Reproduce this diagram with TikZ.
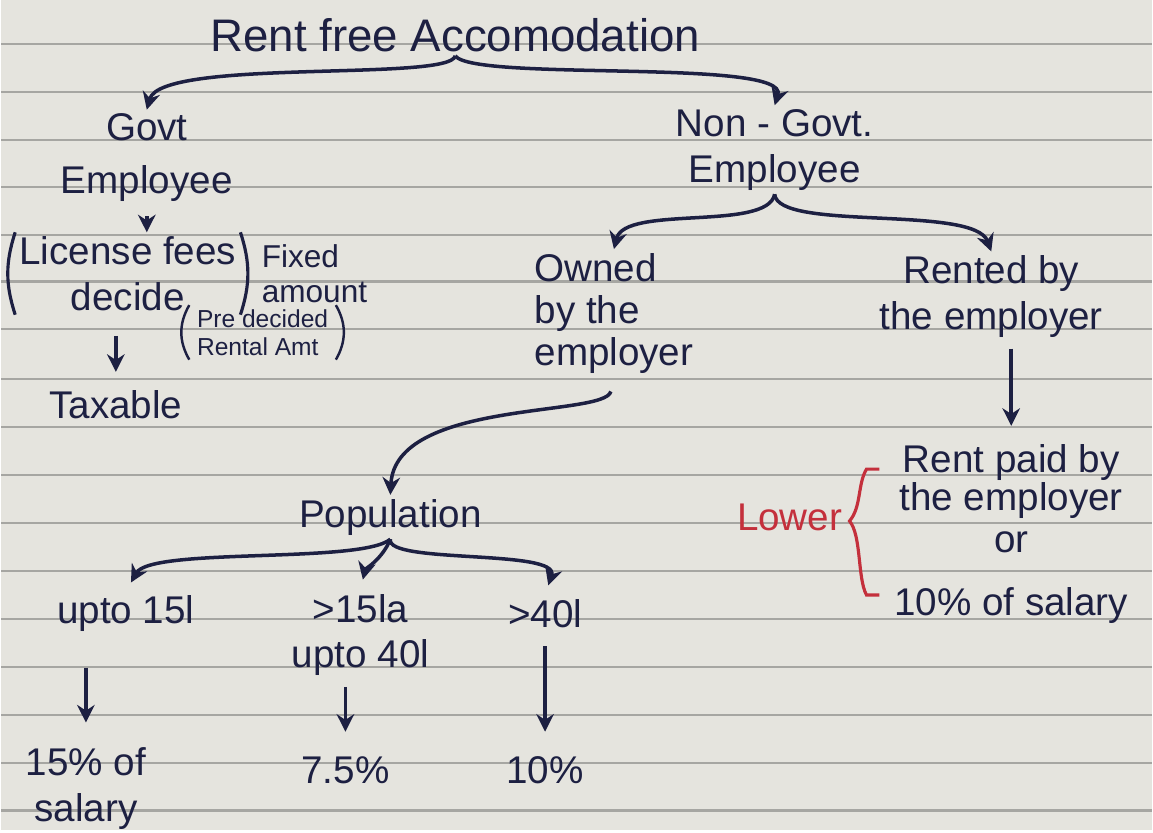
\documentclass[tikz,border=0pt]{standalone}
\usepackage{fontspec}
\setmainfont{Liberation Sans}
\usepackage{tikz}
\usetikzlibrary{arrows.meta, positioning}
\definecolor{paperBg}{HTML}{E5E4DE}
\definecolor{ruleLine}{HTML}{A6A6A2}
\definecolor{inkBlue}{HTML}{1D2042}
\definecolor{inkRed}{HTML}{C4303C}

\begin{document}
\begin{tikzpicture}[x=0.01cm, y=-0.01cm,
    hand/.style={text=inkBlue, font=\fontsize{11}{13}\selectfont, align=center, inner sep=1pt},
    note/.style={text=inkBlue, font=\fontsize{9}{10}\selectfont, align=left, inner sep=1pt},
    tinynote/.style={text=inkBlue, font=\fontsize{7}{8}\selectfont, align=left, inner sep=1pt},
    arr/.style={draw=inkBlue, line width=1pt, -{Stealth[length=5pt, width=5pt]}},
    stroke/.style={draw=inkBlue, line width=0.9pt}]
    % ══════════════════════════════════════════════
    % ══ PAPER ══
    % ══════════════════════════════════════════════

    % Sheet
    \fill[paperBg] (0,0) rectangle (1153,832);
    % Ruled lines
    \foreach \y in {44,92,140,187,235,282,330,380,428,476,524,572,620,668,716,764,812}
        \draw[ruleLine, line width=0.6pt] (0,\y) -- (1153,\y);

    % ══════════════════════════════════════════════
    % ══ TOP LEVEL ══
    % ══════════════════════════════════════════════

    \node[hand, font=\fontsize{13}{15}\selectfont] (root) at (455,35) {Rent free Accomodation};

    \node[hand] (govt) at (146,158) {Govt\\[2pt]Employee};
    \node[hand] (nongovt) at (775,150) {Non - Govt.\\Employee};

    % Brace from the title
    \draw[arr] (root.south) .. controls (450,82) and (160,58) .. (govt.north);
    \draw[arr] (root.south) .. controls (475,82) and (790,58) .. (nongovt.north);

    % ══════════════════════════════════════════════
    % ══ GOVT BRANCH ══
    % ══════════════════════════════════════════════

    \node[hand] (licence) at (127,274) {License fees\\decide};
    \draw[stroke] (licence.north west) to[bend right=18] (licence.south west);
    \draw[stroke] (licence.north east) to[bend left=18] (licence.south east);

    \node[note] (fixed) at (314,274) {Fixed\\amount};

    \node[tinynote] (predecided) at (262,333) {Pre decided\\Rental Amt};
    \draw[stroke, line width=0.7pt] ([xshift=-1pt]predecided.north west) to[bend right=30] ([xshift=-1pt]predecided.south west);
    \draw[stroke, line width=0.7pt] ([xshift=1pt]predecided.north east) to[bend left=30] ([xshift=1pt]predecided.south east);

    \node[hand] (taxable) at (115,405) {Taxable};

    \draw[arr, shorten <=3pt] (govt.south) -- (govt.south |- licence.north);
    \draw[arr, shorten <=6pt, shorten >=4pt] (licence.south -| taxable.north) -- (taxable.north);

    % ══════════════════════════════════════════════
    % ══ NON-GOVT BRANCH ══
    % ══════════════════════════════════════════════

    \node[hand, align=left] (owned) at (614,314) {Owned\\[-1pt]by the\\[-1pt]employer};
    \node[hand] (rented) at (992,297) {Rented by\\the employer};

    \draw[arr] (nongovt.south) .. controls (768,232) and (625,205) .. (owned.north);
    \draw[arr] (nongovt.south) .. controls (778,232) and (975,205) .. (rented.north);

    % Rented -> rent paid
    \node[hand] (rentpaid) at (1012,535) {Rent paid by\\[-2pt]the employer\\[-1pt]or\\[5pt]10\% of salary};
    \draw[arr, shorten <=2pt, shorten >=4pt] (rented.south -| rentpaid.north) -- (rentpaid.north);

    % Lower of the two
    \node[hand, text=inkRed] (lower) at (790,518) {Lower};
    \draw[inkRed, line width=0.9pt] (880,470) -- (867,470) .. controls (858,485) and (862,508) .. (850,522)
        .. controls (862,536) and (858,580) .. (867,596) -- (880,596);

    % ══════════════════════════════════════════════
    % ══ POPULATION ══
    % ══════════════════════════════════════════════

    \node[hand] (population) at (390,518) {Population};
    \draw[arr, shorten <=4pt] (owned.south) .. controls (605,418) and (395,400) .. (population.north);

    \node[hand] (upto15) at (125,615) {upto 15l};
    \node[hand] (mid15) at (360,636) {>15la\\upto 40l};
    \node[hand] (above40) at (545,615) {>40l};

    \draw[arr, shorten >=3pt] (population.south) .. controls (360,565) and (150,548) .. (upto15.north);
    \draw[arr, shorten >=3pt] (population.south) .. controls (382,560) and (365,570) .. (mid15.north);
    \draw[arr, shorten >=3pt] (population.south) .. controls (385,565) and (560,550) .. (above40.north);

    % Rates
    \node[hand] (sal15) at (85,790) {15\% of\\salary};
    \node[hand] (rate75) at (345,772) {7.5\%};
    \node[hand] (rate10) at (545,772) {10\%};

    \draw[arr, shorten <=9pt, shorten >=6pt] (sal15.north |- upto15.south) -- (sal15.north);
    \draw[arr, shorten <=2pt, shorten >=6pt] (rate75.north |- mid15.south) -- (rate75.north);
    \draw[arr, shorten <=4pt, shorten >=6pt] (above40.south) -- (rate10.north);

\end{tikzpicture}
\end{document}
